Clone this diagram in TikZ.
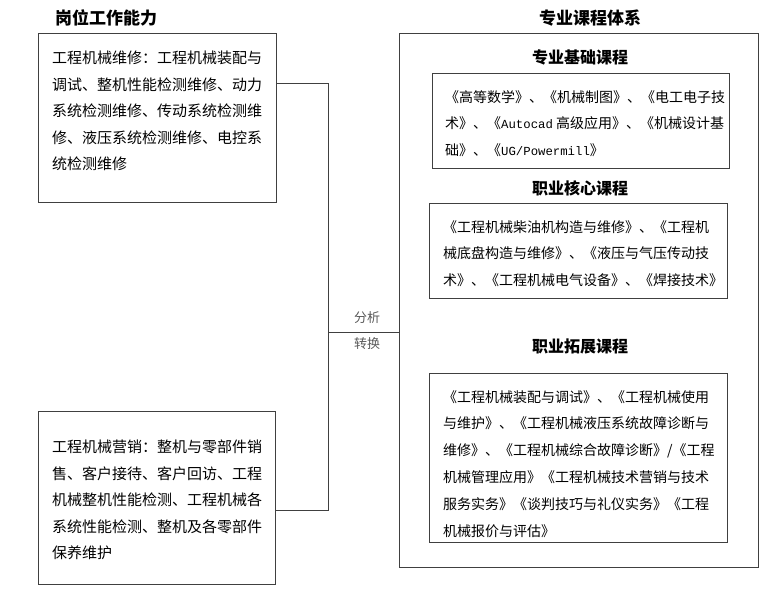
\documentclass[tikz,border=0pt]{standalone}
\usepackage{fontspec}
\setmainfont{Noto Sans CJK SC}
\setmonofont{Liberation Mono}[Scale=0.88]
\usetikzlibrary{positioning}

\begin{document}
\begin{tikzpicture}[
  x=1pt, y=-1pt,
  title/.style={font=\bfseries\fontsize{17}{20}\selectfont},
  subtitle/.style={font=\bfseries\fontsize{16}{19}\selectfont},
  frame/.style={draw=black!75, line width=1pt, inner sep=0pt, anchor=north west},
  jobtext/.style={font=\fontsize{15}{26.4}\selectfont, align=left, inner sep=0pt},
  coursetext/.style={font=\fontsize{14}{26.8}\selectfont, align=left, inner sep=0pt},
  link/.style={draw=black!75, line width=1pt},
  tag/.style={font=\fontsize{13}{15}\selectfont, text=black!65},
]
\useasboundingbox (0,0) rectangle (778,592);

% Titles
\node[title] (jobtitle) at (106,18) {岗位工作能力};
\node[title] (coursetitle) at (590,18) {专业课程体系};

% Job abilities
\node[frame, minimum width=238pt, minimum height=169pt] (job1) at (38,33) {};
\node[jobtext, below right=18pt and 14pt of job1.north west] (job1t)
  {工程机械维修：工程机械装配与\\调试、整机性能检测维修、动力\\系统检测维修、传动系统检测维\\修、液压系统检测维修、电控系\\统检测维修};

\node[frame, minimum width=237pt, minimum height=173pt] (job2) at (38,411) {};
\node[jobtext, below right=29pt and 14pt of job2.north west] (job2t)
  {工程机械营销：整机与零部件销\\售、客户接待、客户回访、工程\\机械整机性能检测、工程机械各\\系统性能检测、整机及各零部件\\保养维护};

% Course system
\node[frame, minimum width=359pt, minimum height=534pt] (course) at (399,33) {};

\node[subtitle] (basetitle) at (580,57) {专业基础课程};
\node[frame, minimum width=297pt, minimum height=95pt] (base) at (432,73) {};
\node[coursetext, below right=17pt and 13pt of base.north west] (baset)
  {《高等数学》、《机械制图》、《电工电子技\\术》、《\texttt{Autocad} 高级应用》、《机械设计基\\础》、《\texttt{UG/Powermill}》};

\node[subtitle] (coretitle) at (580,188) {职业核心课程};
\node[frame, minimum width=298pt, minimum height=95pt] (core) at (429,203) {};
\node[coursetext, below right=17pt and 14pt of core.north west] (coret)
  {《工程机械柴油机构造与维修》、《工程机\\械底盘构造与维修》、《液压与气压传动技\\术》、《工程机械电气设备》、《焊接技术》};

\node[subtitle] (exttitle) at (580,346) {职业拓展课程};
\node[frame, minimum width=298pt, minimum height=169pt] (ext) at (429,373) {};
\node[coursetext, below right=17pt and 14pt of ext.north west] (extt)
  {《工程机械装配与调试》、《工程机械使用\\与维护》、《工程机械液压系统故障诊断与\\维修》、《工程机械综合故障诊断》/《工程\\机械管理应用》《工程机械技术营销与技术\\服务实务》《谈判技巧与礼仪实务》《工程\\机械报价与评估》};

% Connectors
\coordinate (hub) at (328,332);
\draw[link] ([yshift=-50pt]job1.north east) -| (hub);
\draw[link] ([yshift=75pt]job2.south east) -| (hub);
\draw[link] (hub) -- (course.west |- hub);
\node[tag] (analyse) at (367,318) {分析};
\node[tag] (convert) at (367,344) {转换};

\end{tikzpicture}
\end{document}
